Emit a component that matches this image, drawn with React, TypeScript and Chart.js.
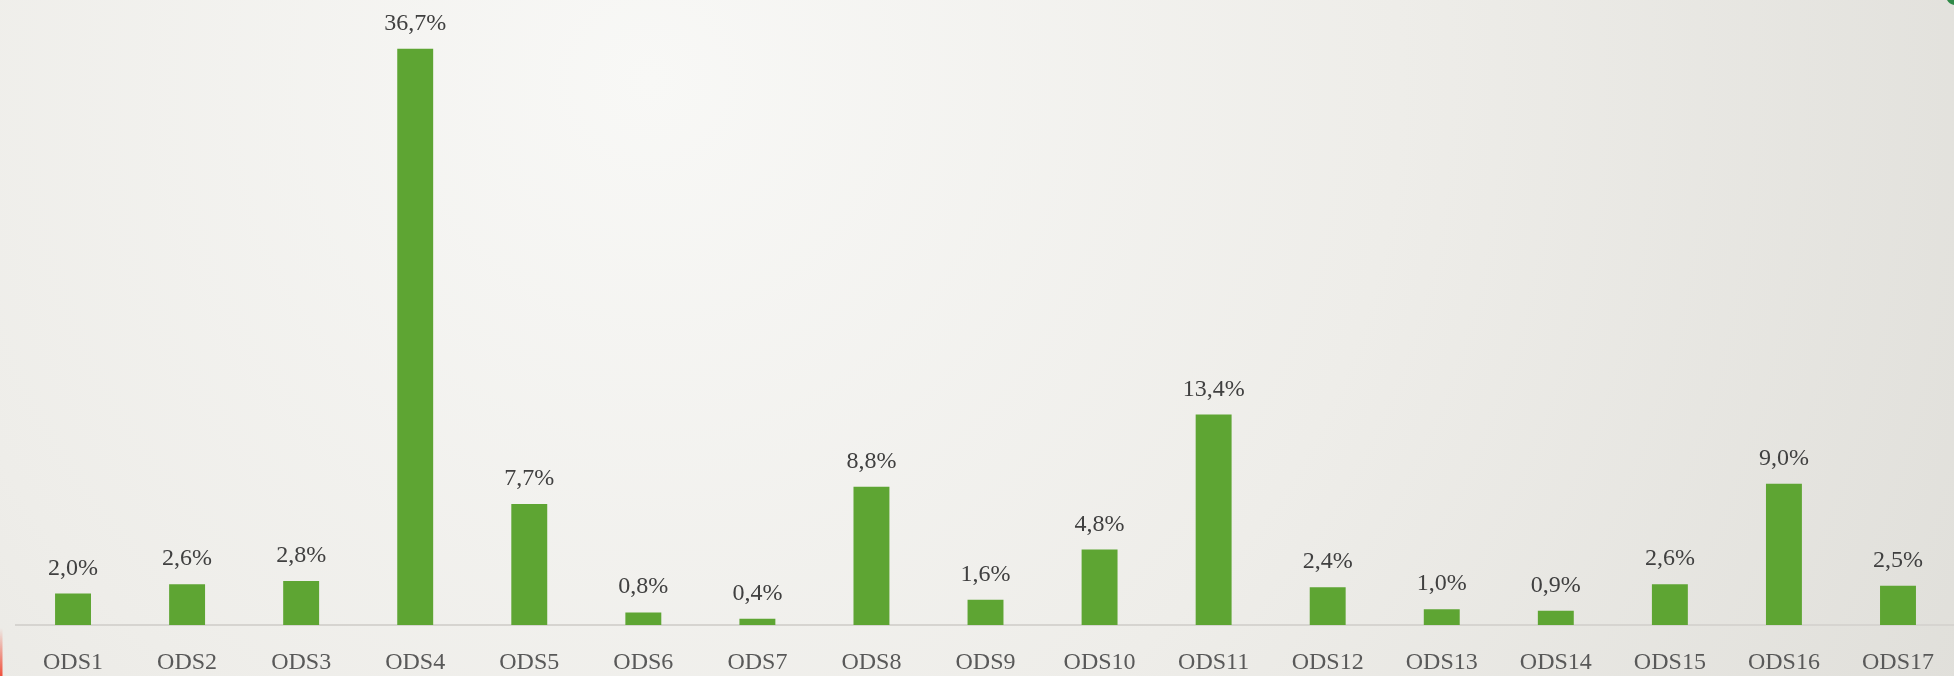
import React, { useEffect, useRef } from "react";
import { Chart, registerables } from "chart.js";

Chart.register(...registerables);

const categories = ["ODS1","ODS2","ODS3","ODS4","ODS5","ODS6","ODS7","ODS8","ODS9","ODS10","ODS11","ODS12","ODS13","ODS14","ODS15","ODS16","ODS17"];
const values = [2.0, 2.6, 2.8, 36.7, 7.7, 0.8, 0.4, 8.8, 1.6, 4.8, 13.4, 2.4, 1.0, 0.9, 2.6, 9.0, 2.5];

const FONT = "'Liberation Serif', 'DejaVu Serif', serif";

const bgPlugin = {
  id: "bg",
  beforeDraw(chart: any) {
    const { ctx, width, height } = chart;
    ctx.save();
    const g = ctx.createRadialGradient(650, 80, 0, 650, 80, 1500);
    g.addColorStop(0, "#f8f8f6");
    g.addColorStop(0.5, "#eeede9");
    g.addColorStop(1, "#dfded9");
    ctx.fillStyle = g;
    ctx.fillRect(0, 0, width, height);
    // small decorative edges
    const r = ctx.createLinearGradient(0, 628, 0, 676);
    r.addColorStop(0, "rgba(240,80,60,0)");
    r.addColorStop(1, "rgba(240,80,60,1)");
    ctx.fillStyle = r;
    ctx.fillRect(0, 628, 2.5, 48);
    ctx.fillStyle = "#2f8a48";
    ctx.beginPath();
    ctx.moveTo(1947, 0);
    ctx.lineTo(1954, 0);
    ctx.lineTo(1954, 5);
    ctx.quadraticCurveTo(1949, 4, 1947, 0);
    ctx.fill();
    ctx.restore();
  },
};

const labelPlugin = {
  id: "vlabels",
  afterDatasetsDraw(chart: any) {
    const { ctx } = chart;
    const meta = chart.getDatasetMeta(0);
    ctx.save();
    ctx.font = `24px ${FONT}`;
    ctx.fillStyle = "#404040";
    ctx.textAlign = "center";
    ctx.textBaseline = "alphabetic";
    meta.data.forEach((bar: any, i: number) => {
      const txt = values[i].toFixed(1).replace(".", ",") + "%";
      ctx.fillText(txt, bar.x, bar.y - 19);
    });
    ctx.restore();
  },
};

export default function App() {
  const ref = useRef<HTMLCanvasElement>(null);
  useEffect(() => {
    if (!ref.current) return;
    const chart = new Chart(ref.current, {
      type: "bar",
      data: {
        labels: categories,
        datasets: [
          {
            data: values,
            backgroundColor: "#5ea533",
            borderWidth: 0,
            barPercentage: 1,
            categoryPercentage: 0.315,
          },
        ],
      },
      options: {
        animation: false,
        responsive: false,
        maintainAspectRatio: false,
        layout: { padding: { left: 16, right: 0, top: 0, bottom: 0 } },
        plugins: { legend: { display: false }, tooltip: { enabled: false } },
        scales: {
          x: {
            grid: { display: false, drawTicks: false },
            border: { display: true, color: "#d6d4d0", width: 2 },
            ticks: {
              color: "#595959",
              font: { family: FONT, size: 24 },
              padding: 23,
              maxRotation: 0,
              autoSkip: false,
            },
            afterFit: (s: any) => {
              s.height = 51;
            },
          },
          y: {
            display: false,
            min: 0,
            max: 39.8,
          },
        },
      },
      plugins: [bgPlugin, labelPlugin],
    });
    return () => chart.destroy();
  }, []);
  return (
    <div style={{ position: "fixed", left: 0, top: 0, width: 1954, height: 676, overflow: "hidden" }}>
      <canvas ref={ref} width={1957} height={676} style={{ display: "block" }} />
    </div>
  );
}
